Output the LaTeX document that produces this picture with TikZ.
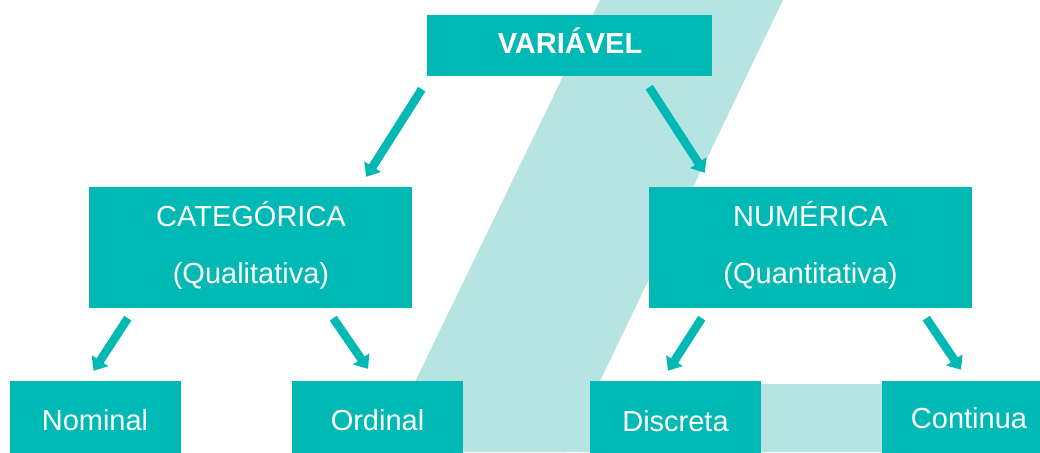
\documentclass[tikz,border=0pt]{standalone}
\usepackage{fontspec}
\setmainfont{Liberation Sans}
\usetikzlibrary{arrows.meta,calc}
\definecolor{teal1}{HTML}{00B9B5}
\definecolor{band}{HTML}{B5E4E3}
\tikzset{
  box/.style={fill=teal1, draw=none, inner sep=0pt},
  txt/.style={text=white, font=\fontsize{29}{34}\selectfont, inner sep=0pt, anchor=base},
  arr/.style={draw=teal1, line width=8.5pt, -{Triangle[width=19pt,length=12pt]}}
}
\begin{document}
\begin{tikzpicture}[x=1pt,y=-1pt]
\useasboundingbox (0,0) rectangle (1040,452);
\clip (0,0) rectangle (1040,452);
\fill[white] (0,0) rectangle (1040,452);
% background bands
\fill[band] (600,0) -- (783,0) -- (566,452) -- (381,452) -- cycle;
\fill[band] (560,384) rectangle (900,452);
% boxes
\node[box, minimum width=285pt, minimum height=61pt] (var) at (569.5,45.5) {};
\node[box, minimum width=323pt, minimum height=121pt] (cat) at (250.5,247.5) {};
\node[box, minimum width=323pt, minimum height=121pt] (num) at (810.5,247.5) {};
\node[box, minimum width=171pt, minimum height=78pt] (nom) at (95.5,420) {};
\node[box, minimum width=171pt, minimum height=78pt] (ord) at (377.5,420) {};
\node[box, minimum width=171pt, minimum height=78pt] (dis) at (675.5,420) {};
\node[box, minimum width=172pt, minimum height=78pt] (con) at (968,420) {};
% texts
\node[txt, font=\fontsize{29}{34}\selectfont\bfseries] (varT) at (570,54) {VARIÁVEL};
\node[txt] (catT1) at (251,226) {CATEGÓRICA};
\node[txt] (catT2) at (251,283) {(Qualitativa)};
\node[txt] (numT1) at (810.5,226.5) {NUMÉRICA};
\node[txt] (numT2) at (810.5,283) {(Quantitativa)};
\node[txt] (nomT) at (95,430) {Nominal};
\node[txt] (ordT) at (377.5,430) {Ordinal};
\node[txt] (disT) at (675.5,431) {Discreta};
\node[txt] (conT) at (969,428) {Continua};
% arrows
\draw[arr] ($(var.south west)+(-5,13)$) -- ($(cat.north east)+(-46,-10)$);
\draw[arr] ($(var.south east)+(-63,11)$) -- ($(num.north west)+(56,-14)$);
\draw[arr] ($(cat.south west)+(39,10)$) -- ($(nom.north)+(-2,-10)$);
\draw[arr] ($(cat.south east)+(-79,10)$) -- ($(ord.north)+(-9.5,-12)$);
\draw[arr] ($(num.south west)+(53,10)$) -- ($(dis.north)+(-7.5,-10)$);
\draw[arr] ($(num.south east)+(-46,10)$) -- ($(con.north)+(-7,-11)$);
\end{tikzpicture}
\end{document}
